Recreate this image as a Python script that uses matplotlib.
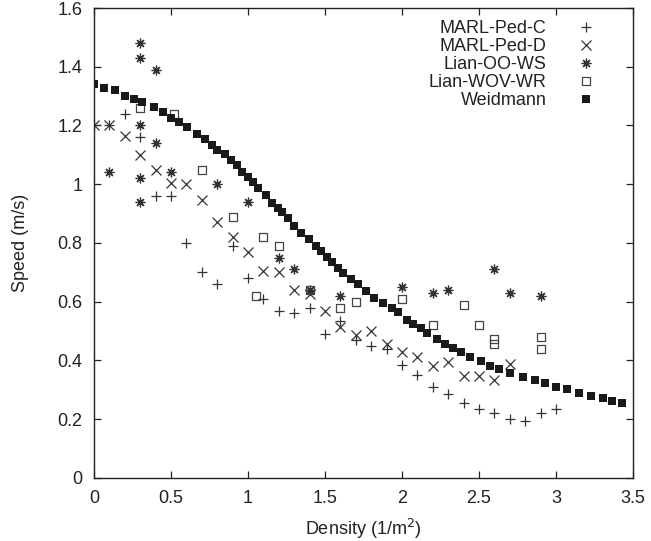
import numpy as np
import matplotlib
matplotlib.use('Agg')
import matplotlib.pyplot as plt
from matplotlib.path import Path

plt.rcParams['font.family'] = ['Liberation Sans', 'DejaVu Sans']

# MARL-Ped-C (+)
c_x = [0.0, 0.1, 0.2, 0.3, 0.4, 0.5, 0.6, 0.7, 0.8, 0.9, 1.0, 1.1, 1.2, 1.3, 1.4,
       1.5, 1.6, 1.7, 1.8, 1.9, 2.0, 2.1, 2.2, 2.3, 2.4, 2.5, 2.6, 2.7, 2.8, 2.9, 3.0]
c_y = [1.20, 1.20, 1.24, 1.16, 0.96, 0.96, 0.80, 0.70, 0.66, 0.79, 0.68, 0.61, 0.57, 0.56, 0.58,
       0.49, 0.535, 0.47, 0.45, 0.44, 0.385, 0.35, 0.31, 0.285, 0.255, 0.235, 0.22, 0.20, 0.195, 0.22, 0.235]

# MARL-Ped-D (x)
d_x = [0.0, 0.1, 0.2, 0.3, 0.4, 0.5, 0.6, 0.7, 0.8, 0.9, 1.0, 1.1, 1.2, 1.3, 1.4,
       1.5, 1.6, 1.7, 1.8, 1.9, 2.0, 2.1, 2.2, 2.3, 2.4, 2.5, 2.6, 2.7]
d_y = [1.20, 1.20, 1.165, 1.10, 1.05, 1.005, 1.00, 0.945, 0.87, 0.82, 0.77, 0.705, 0.70, 0.64, 0.625,
       0.57, 0.513, 0.487, 0.50, 0.456, 0.43, 0.413, 0.38, 0.396, 0.348, 0.348, 0.334, 0.388]

# Lian-OO-WS (asterisk)
ws_x = [0.1, 0.3, 0.3, 0.3, 0.3, 0.3, 0.4, 0.4, 0.5, 0.8, 1.0, 1.2, 1.3, 1.4,
        1.6, 2.0, 2.2, 2.3, 2.6, 2.7, 2.9]
ws_y = [1.04, 1.48, 1.43, 1.20, 1.02, 0.94, 1.39, 1.14, 1.04, 1.00, 0.94, 0.75, 0.71, 0.64,
        0.62, 0.65, 0.63, 0.64, 0.71, 0.63, 0.62]

# Lian-WOV-WR (dotted box)
wr_x = [0.3, 0.52, 0.7, 0.9, 1.05, 1.1, 1.2, 1.4, 1.6, 1.7, 2.0, 2.2, 2.4, 2.5, 2.6, 2.6, 2.9, 2.9]
wr_y = [1.26, 1.24, 1.05, 0.89, 0.62, 0.82, 0.79, 0.64, 0.58, 0.60, 0.61, 0.52, 0.59, 0.52,
        0.472, 0.456, 0.48, 0.44]

# Weidmann (filled squares)
wd_x = [0.0, 0.065, 0.134, 0.203, 0.26, 0.312, 0.387, 0.446, 0.502, 0.55, 0.606, 0.671,
        0.719, 0.766, 0.801, 0.848, 0.888, 0.926, 0.961, 1.0, 1.03, 1.067, 1.115, 1.158,
        1.197, 1.223, 1.258, 1.301, 1.344, 1.396, 1.44, 1.474, 1.511, 1.548, 1.586, 1.619,
        1.669, 1.716, 1.764, 1.82, 1.879, 1.933, 1.976, 2.03, 2.074, 2.121, 2.164, 2.229,
        2.279, 2.329, 2.383, 2.442, 2.513, 2.571, 2.63, 2.701, 2.784, 2.864, 2.929, 3.0,
        3.073, 3.151, 3.227, 3.307, 3.366, 3.43]
wd_y = [1.34, 1.329, 1.32, 1.30, 1.29, 1.279, 1.262, 1.245, 1.227, 1.213, 1.194, 1.17,
        1.153, 1.134, 1.117, 1.102, 1.084, 1.066, 1.043, 1.026, 1.006, 0.986, 0.963, 0.935,
        0.918, 0.904, 0.884, 0.859, 0.833, 0.814, 0.791, 0.773, 0.753, 0.734, 0.714, 0.697,
        0.676, 0.659, 0.637, 0.614, 0.595, 0.58, 0.564, 0.538, 0.524, 0.509, 0.493, 0.472,
        0.456, 0.444, 0.43, 0.413, 0.398, 0.382, 0.37, 0.356, 0.345, 0.332, 0.322, 0.311,
        0.302, 0.288, 0.28, 0.271, 0.263, 0.254]

x_ticks = [0, 0.5, 1, 1.5, 2, 2.5, 3, 3.5]
x_labels = ['0', '0.5', '1', '1.5', '2', '2.5', '3', '3.5']
y_ticks = [0, 0.2, 0.4, 0.6, 0.8, 1.0, 1.2, 1.4, 1.6]
y_labels = ['0', '0.2', '0.4', '0.6', '0.8', '1', '1.2', '1.4', '1.6']

# open square with a dot in the middle (gnuplot style)
sq = [(-1, -1), (1, -1), (1, 1), (-1, 1), (-1, -1)]
dot = [(-0.08, -0.08), (0.08, -0.08), (0.08, 0.08), (-0.08, 0.08), (-0.08, -0.08)]
codes = [Path.MOVETO, Path.LINETO, Path.LINETO, Path.LINETO, Path.CLOSEPOLY]
box_dot = Path(sq + dot, codes + codes)

fig = plt.figure(figsize=(6.51, 5.41), dpi=100)
ax = fig.add_axes([0.1444, 0.1165, 0.828, 0.8687])

ink = '#222222'
ax.plot(c_x, c_y, ls='none', marker='+', ms=7, mew=0.9, color='#333333', label='MARL-Ped-C')
ax.plot(d_x, d_y, ls='none', marker='x', ms=6.5, mew=0.9, color='#333333', label='MARL-Ped-D')
ax.plot(ws_x, ws_y, ls='none', marker=(8, 2, 0), ms=7, mew=0.9, color='#333333', label='Lian-OO-WS')
ax.plot(wr_x, wr_y, ls='none', marker=box_dot, ms=6, mew=0.9, mfc='none', color='#444444',
        label='Lian-WOV-WR')
ax.plot(wd_x, wd_y, ls='none', marker='s', ms=5.8, mew=0, color='#1a1a1a', label='Weidmann')

ax.set_xlim(0, 3.5)
ax.set_ylim(0, 1.6)
ax.set_xticks(x_ticks)
ax.set_xticklabels(x_labels)
ax.set_yticks(y_ticks)
ax.set_yticklabels(y_labels)
ax.tick_params(direction='in', length=5, width=0.9, top=True, right=True,
               labelsize=13, colors=ink, pad=8.5)
for s in ax.spines.values():
    s.set_linewidth(1.0)
    s.set_color(ink)

ax.set_xlabel('Density (1/m$^2$)', fontsize=13, color=ink, labelpad=7)
ax.set_ylabel('Speed (m/s)', fontsize=13, color=ink, labelpad=20)

leg = ax.legend(loc='upper right', bbox_to_anchor=(0.947, 0.974), frameon=False,
                markerfirst=False, fontsize=13, borderaxespad=0, borderpad=0,
                handlelength=2, handletextpad=1.2, labelspacing=0.05)
for t in leg.get_texts():
    t.set_color(ink)

fig.savefig('out.png', dpi=100)
